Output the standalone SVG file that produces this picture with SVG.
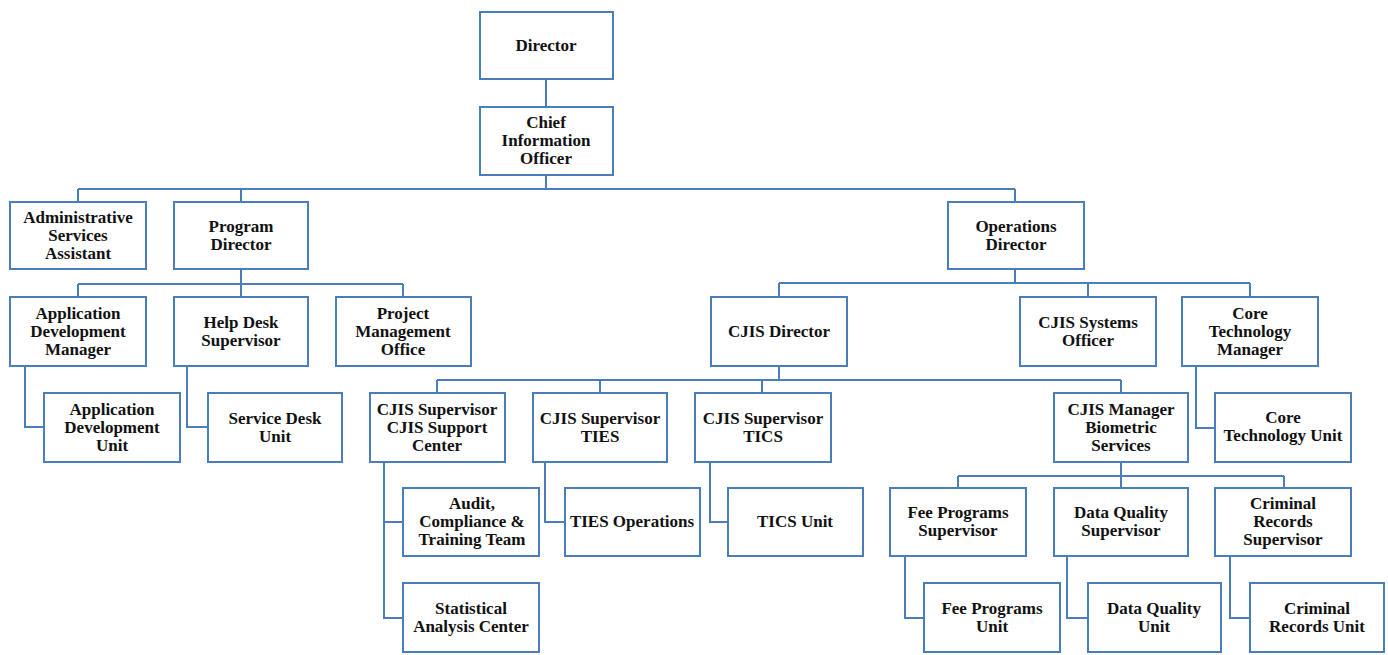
<svg xmlns="http://www.w3.org/2000/svg" width="1388" height="655" viewBox="0 0 1388 655">
<style>
.b{fill:#fff;stroke:#4a7ebb;stroke-width:2}
.c{fill:none;stroke:#4a7ebb;stroke-width:2}
text{font-family:"Liberation Serif","Times New Roman",serif;font-weight:bold;font-size:17px;fill:#111;text-anchor:middle}
</style>
<rect width="1388" height="655" fill="#fff"/>
<g id="connectors" class="c">
<path d="M546 79V107M546 175V189M78 189H1015M78 189V202M241 189V202M1015 189V202"/>
<path d="M241 269V284M78 284H403M78 284V297M241 284V297M403 284V297"/>
<path d="M1015 269V283M779 283H1250M779 283V297M1088 283V297M1250 283V297"/>
<path d="M779 366V380M437 380H1121M437 380V393M600 380V393M762 380V393M1121 380V393"/>
<path d="M25 366V427H44M187 366V427H208M1196 366V428H1215"/>
<path d="M384 462V618H403M384 522H403M545 462V522H565M710 462V522H728"/>
<path d="M1121 462V476M958 476H1284M958 476V488M1121 476V488M1284 476V488"/>
<path d="M905 556V618H924M1067 556V618H1088M1230 556V618H1250"/>
</g>
<g id="director"><rect class="b" x="480" y="12" width="133" height="67"/><text x="546" y="51">Director</text></g>
<g id="cio"><rect class="b" x="480" y="107" width="133" height="68"/><text x="546" y="128">Chief</text><text x="546" y="146">Information</text><text x="546" y="164">Officer</text></g>
<g id="admin"><rect class="b" x="10" y="202" width="136" height="67"/><text x="78" y="222.5">Administrative</text><text x="78" y="240.5">Services</text><text x="78" y="258.5">Assistant</text></g>
<g id="program-director"><rect class="b" x="174" y="202" width="134" height="67"/><text x="241" y="231.5">Program</text><text x="241" y="249.5">Director</text></g>
<g id="operations-director"><rect class="b" x="948" y="202" width="136" height="67"/><text x="1016" y="231.5">Operations</text><text x="1016" y="249.5">Director</text></g>
<g id="app-dev-manager"><rect class="b" x="10" y="297" width="136" height="69"/><text x="78" y="318.5">Application</text><text x="78" y="336.5">Development</text><text x="78" y="354.5">Manager</text></g>
<g id="help-desk"><rect class="b" x="174" y="297" width="134" height="69"/><text x="241" y="327.5">Help Desk</text><text x="241" y="345.5">Supervisor</text></g>
<g id="pmo"><rect class="b" x="336" y="297" width="135" height="69"/><text x="403" y="318.5">Project</text><text x="403" y="336.5">Management</text><text x="403" y="354.5">Office</text></g>
<g id="cjis-director"><rect class="b" x="711" y="297" width="136" height="69"/><text x="779" y="336.5">CJIS Director</text></g>
<g id="cjis-systems-officer"><rect class="b" x="1020" y="297" width="136" height="69"/><text x="1088" y="327.5">CJIS Systems</text><text x="1088" y="345.5">Officer</text></g>
<g id="core-tech-manager"><rect class="b" x="1182" y="297" width="136" height="69"/><text x="1250" y="318.5">Core</text><text x="1250" y="336.5">Technology</text><text x="1250" y="354.5">Manager</text></g>
<g id="app-dev-unit"><rect class="b" x="44" y="393" width="136" height="69"/><text x="112" y="414.5">Application</text><text x="112" y="432.5">Development</text><text x="112" y="450.5">Unit</text></g>
<g id="service-desk"><rect class="b" x="208" y="393" width="134" height="69"/><text x="275" y="423.5">Service Desk</text><text x="275" y="441.5">Unit</text></g>
<g id="cjis-support"><rect class="b" x="370" y="393" width="135" height="69"/><text x="437" y="414.5">CJIS Supervisor</text><text x="437" y="432.5">CJIS Support</text><text x="437" y="450.5">Center</text></g>
<g id="cjis-ties"><rect class="b" x="533" y="393" width="134" height="69"/><text x="600" y="423.5">CJIS Supervisor</text><text x="600" y="441.5">TIES</text></g>
<g id="cjis-tics"><rect class="b" x="695" y="393" width="136" height="69"/><text x="763" y="423.5">CJIS Supervisor</text><text x="763" y="441.5">TICS</text></g>
<g id="cjis-biometric"><rect class="b" x="1054" y="393" width="134" height="69"/><text x="1121" y="414.5">CJIS Manager</text><text x="1121" y="432.5">Biometric</text><text x="1121" y="450.5">Services</text></g>
<g id="core-tech-unit"><rect class="b" x="1215" y="393" width="136" height="69"/><text x="1283" y="422.5">Core</text><text x="1283" y="440.5">Technology Unit</text></g>
<g id="audit"><rect class="b" x="403" y="488" width="136" height="68"/><text x="472" y="509">Audit,</text><text x="472" y="527">Compliance &amp;</text><text x="472" y="545">Training Team</text></g>
<g id="ties-operations"><rect class="b" x="565" y="488" width="135" height="68"/><text x="632" y="527">TIES Operations</text></g>
<g id="tics-unit"><rect class="b" x="728" y="488" width="135" height="68"/><text x="795" y="527">TICS Unit</text></g>
<g id="fee-sup"><rect class="b" x="890" y="488" width="136" height="68"/><text x="958" y="518">Fee Programs</text><text x="958" y="536">Supervisor</text></g>
<g id="dq-sup"><rect class="b" x="1054" y="488" width="134" height="68"/><text x="1121" y="518">Data Quality</text><text x="1121" y="536">Supervisor</text></g>
<g id="cr-sup"><rect class="b" x="1215" y="488" width="136" height="68"/><text x="1283" y="509">Criminal</text><text x="1283" y="527">Records</text><text x="1283" y="545">Supervisor</text></g>
<g id="stat-analysis"><rect class="b" x="403" y="583" width="136" height="69"/><text x="471" y="613.5">Statistical</text><text x="471" y="631.5">Analysis Center</text></g>
<g id="fee-unit"><rect class="b" x="924" y="583" width="136" height="69"/><text x="992" y="613.5">Fee Programs</text><text x="992" y="631.5">Unit</text></g>
<g id="dq-unit"><rect class="b" x="1088" y="583" width="133" height="69"/><text x="1154" y="613.5">Data Quality</text><text x="1154" y="631.5">Unit</text></g>
<g id="cr-unit"><rect class="b" x="1250" y="583" width="134" height="69"/><text x="1317" y="613.5">Criminal</text><text x="1317" y="631.5">Records Unit</text></g>
</svg>
